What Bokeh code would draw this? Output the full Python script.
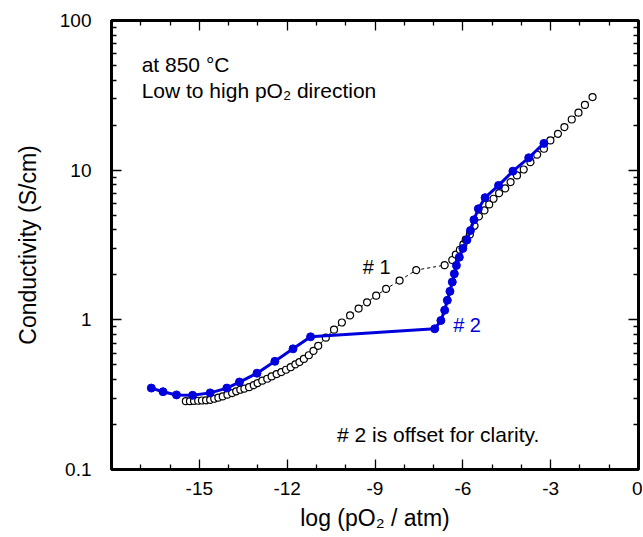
from bokeh.plotting import figure
from bokeh.models import (Label, LinearAxis, LogAxis, FixedTicker, BasicTickFormatter,
                          ColumnDataSource)
from bokeh.embed import file_html
from bokeh.resources import INLINE

# ---- data ----
s1_x = [-15.46, -15.32, -15.18, -15.04, -14.91, -14.77, -14.63, -14.49, -14.35, -14.20,
        -14.04, -13.88, -13.74, -13.60, -13.46, -13.30, -13.14, -13.01, -12.85, -12.68,
        -12.53, -12.36, -12.20, -12.04, -11.88, -11.72, -11.58, -11.43, -11.26, -11.10,
        -10.94, -10.68, -10.40, -10.13, -9.85, -9.56, -9.27, -8.96, -8.62, -8.16,
        -7.59, -6.62, -6.36, -6.24, -6.10, -5.98, -5.90, -5.76, -5.60, -5.45,
        -5.26, -5.10, -4.95, -4.76, -4.55, -4.37, -4.15, -3.92, -3.69, -3.46,
        -3.23, -3.01, -2.75, -2.53, -2.28, -2.05, -1.83, -1.57]
s1_y = [0.286, 0.286, 0.287, 0.288, 0.289, 0.290, 0.292, 0.297, 0.302, 0.308,
        0.316, 0.324, 0.333, 0.341, 0.347, 0.355, 0.366, 0.378, 0.392, 0.404,
        0.419, 0.434, 0.448, 0.464, 0.483, 0.504, 0.522, 0.548, 0.580, 0.620,
        0.670, 0.760, 0.860, 0.960, 1.07, 1.19, 1.31, 1.45, 1.61, 1.83,
        2.15, 2.32, 2.51, 2.73, 2.94, 3.19, 3.43, 3.72, 4.25, 4.91,
        5.38, 5.90, 6.44, 7.02, 7.55, 8.32, 9.22, 10.1, 11.3, 12.7,
        13.9, 15.8, 17.5, 19.4, 21.8, 24.2, 27.3, 30.8]

s2_x = [-16.64, -16.24, -15.78, -15.23, -14.63, -14.06, -13.63, -13.03, -12.42, -11.80,
        -11.20, -6.96, -6.75, -6.62, -6.53, -6.44, -6.36, -6.29, -6.22, -6.12,
        -6.00, -5.86, -5.74, -5.62, -5.47, -5.24, -4.78, -4.29, -3.75, -3.23]
s2_y = [0.350, 0.331, 0.315, 0.313, 0.325, 0.350, 0.384, 0.440, 0.528, 0.640,
        0.770, 0.871, 0.99, 1.16, 1.35, 1.55, 1.79, 2.03, 2.31, 2.62,
        3.00, 3.42, 3.95, 4.66, 5.52, 6.55, 7.91, 9.85, 12.1, 15.1]

x_major = [-15, -12, -9, -6, -3, 0]
x_labels = ["-15", "-12", "-9", "-6", "-3", "0"]
x_minor = [-17, -16, -14, -13, -11, -10, -8, -7, -5, -4, -2, -1]
y_major = [0.1, 1, 10, 100]
y_labels = ["0.1", "1", "10", "100"]
y_minor = [0.2, 0.3, 0.4, 0.5, 0.6, 0.7, 0.8, 0.9,
           2, 3, 4, 5, 6, 7, 8, 9,
           20, 30, 40, 50, 60, 70, 80, 90]

FONT = "Liberation Sans"
BLUE = "#0000dd"

p = figure(width=642, height=536, output_backend="svg", toolbar_location=None,
           x_range=(-18, 0), y_range=(0.1, 100), y_axis_type="log",
           min_border_left=111, min_border_right=4, min_border_top=20, min_border_bottom=67)
p.grid.visible = False
p.outline_line_color = "black"
p.outline_line_width = 3
p.background_fill_color = "white"

bx = p.below[0]
ly = p.left[0]

xt = FixedTicker(ticks=x_major, minor_ticks=x_minor)
yt = FixedTicker(ticks=y_major, minor_ticks=y_minor)

bx.ticker = xt
ly.ticker = yt
ly.formatter = BasicTickFormatter()
bx.major_label_overrides = {v: t for v, t in zip(x_major, x_labels)}
ly.major_label_overrides = {v: t for v, t in zip(y_major, y_labels)}

top_ax = LinearAxis(ticker=FixedTicker(ticks=x_major, minor_ticks=x_minor))
right_ax = LogAxis(ticker=FixedTicker(ticks=y_major, minor_ticks=y_minor))
p.add_layout(top_ax, "above")
p.add_layout(right_ax, "right")

for ax in [bx, ly, top_ax, right_ax]:
    ax.axis_line_color = None
    ax.major_tick_in = 10
    ax.major_tick_out = 0
    ax.minor_tick_in = 5
    ax.minor_tick_out = 0
    ax.major_tick_line_color = "black"
    ax.minor_tick_line_color = "black"
    ax.major_tick_line_width = 1.3
    ax.minor_tick_line_width = 1.3
    ax.major_label_text_font = FONT
    ax.major_label_text_color = "black"
    ax.axis_label_text_font = FONT
    ax.axis_label_text_font_style = "normal"
    ax.axis_label_text_color = "black"

for ax in [top_ax, right_ax]:
    ax.major_label_standoff = 0
    ax.major_label_text_alpha = 0
    ax.major_label_text_font_size = "4px"

bx.major_label_text_font_size = "19px"
ly.major_label_text_font_size = "19px"
bx.major_label_standoff = 12
ly.major_label_standoff = 20
bx.axis_label = "log (pO\u2082 / atm)"
ly.axis_label = "Conductivity (S/cm)"
bx.axis_label_text_font_size = "23px"
ly.axis_label_text_font_size = "23px"
bx.axis_label_standoff = 7
ly.axis_label_standoff = 16

src1 = ColumnDataSource(dict(x=s1_x, y=s1_y))
src2 = ColumnDataSource(dict(x=s2_x, y=s2_y))

p.line("x", "y", source=src1, line_color="black", line_width=1, line_dash="3 3")
p.scatter("x", "y", source=src1, marker="circle", size=7, fill_color="white",
          line_color="black", line_width=1.2)
p.line("x", "y", source=src2, line_color=BLUE, line_width=3)
p.scatter("x", "y", source=src2, marker="circle", size=8, fill_color=BLUE,
          line_color=BLUE, line_width=1)

def lab(x, y, text, color="black", size="21px"):
    p.add_layout(Label(x=x, y=y, text=text, text_font=FONT, text_font_size=size,
                       text_color=color, text_baseline="middle", text_align="left"))

lab(-16.97, 50.8, "at 850 \u00b0C")
lab(-16.97, 34.0, "Low to high pO\u2082 direction")
lab(-9.42, 2.25, "# 1", size="20px")
lab(-6.33, 0.918, "# 2", color=BLUE, size="20px")
lab(-10.30, 0.171, "# 2 is offset for clarity.")

open("out.html", "w").write(file_html(p, INLINE))
